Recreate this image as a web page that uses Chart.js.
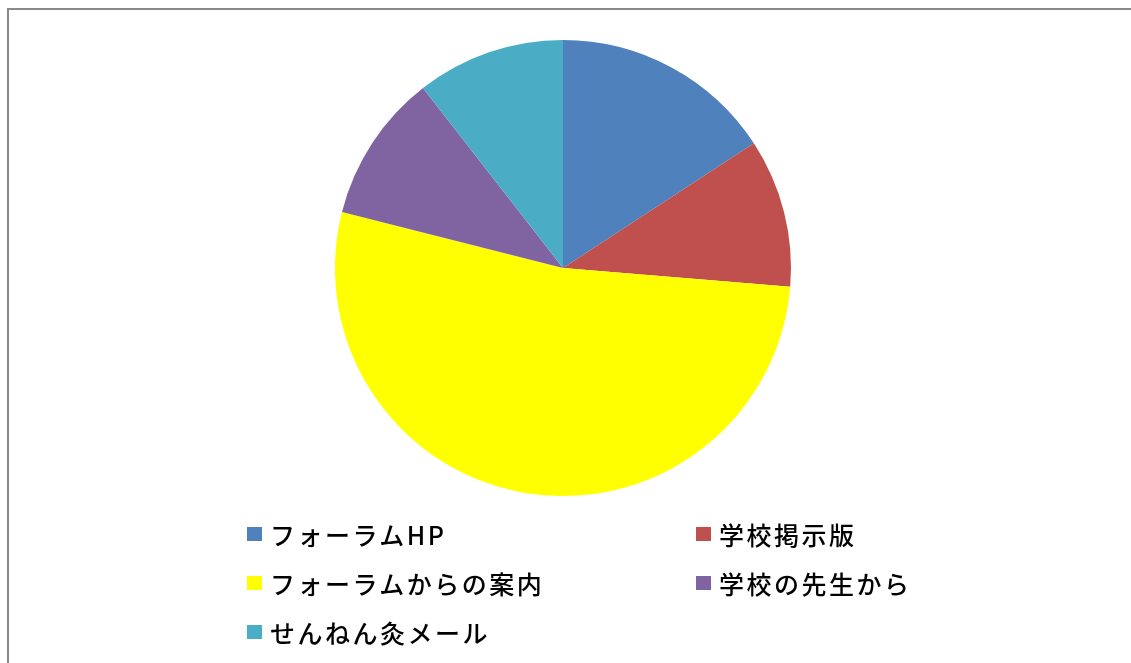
<!DOCTYPE html>
<html>
<head>
<meta charset="utf-8">
<script src="https://cdn.jsdelivr.net/npm/chart.js@4/dist/chart.umd.min.js"></script>
<style>
  html, body { margin: 0; padding: 0; background: #fff; overflow: hidden; }
  #wrap { position: relative; width: 1131px; height: 663px; }
  #frame { position: absolute; left: 7px; top: 8px; width: 1140px; height: 680px; border: 2px solid #8a8a8a; box-sizing: border-box; }
  #c { position: absolute; left: 0; top: 0; }
  .lg { position: absolute; display: flex; align-items: center; font-family: "Noto Sans CJK JP", sans-serif; font-size: 25px; font-weight: 500; letter-spacing: 2.5px; color: #000; white-space: nowrap; line-height: 1; }
  .lg span.box { display: inline-block; width: 15px; height: 14px; margin-right: 8px; }
</style>
</head>
<body>
<div id="wrap">
  <div id="frame"></div>
  <canvas id="c" width="1131" height="663"></canvas>
  <div id="legend"></div>
</div>
<script>
const categories = ["フォーラムHP", "学校掲示版", "フォーラムからの案内", "学校の先生から", "せんねん灸メール"];
const values = [3, 2, 10, 2, 2];
const colors = ["#4F81BD", "#C0504D", "#FFFF00", "#8064A2", "#4BACC6"];

new Chart(document.getElementById('c'), {
  type: 'pie',
  data: {
    labels: categories,
    datasets: [{ data: values, backgroundColor: colors, borderWidth: 0 }]
  },
  options: {
    responsive: false,
    animation: false,
    layout: { padding: { left: 335, right: 340, top: 40, bottom: 167 } },
    plugins: { legend: { display: false }, tooltip: { enabled: false } }
  }
});

// legend in two columns, row-major
const legend = document.getElementById('legend');
const colX = [247, 696];
const rowY = [534, 583, 632];
categories.forEach((name, i) => {
  const d = document.createElement('div');
  d.className = 'lg';
  d.style.left = colX[i % 2] + 'px';
  d.style.top = (rowY[Math.floor(i / 2)] - 14) + 'px';
  d.style.height = '28px';
  const b = document.createElement('span');
  b.className = 'box';
  b.style.background = colors[i];
  d.appendChild(b);
  d.appendChild(document.createTextNode(name));
  legend.appendChild(d);
});
</script>
</body>
</html>
